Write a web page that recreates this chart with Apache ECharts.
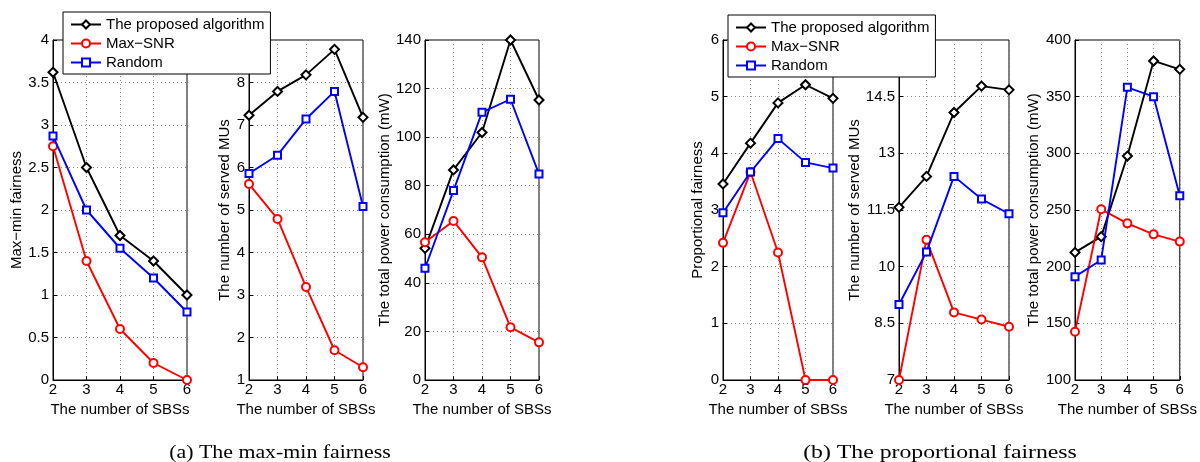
<!DOCTYPE html>
<html><head><meta charset="utf-8">
<script src="https://cdn.jsdelivr.net/npm/echarts@6/dist/echarts.min.js"></script>
<style>html,body{margin:0;padding:0;background:#fff}#c{width:1200px;height:462px}</style>
</head><body><div id="c"></div>
<script>
// ---------- data ----------
const xs = [2, 3, 4, 5, 6];
const seriesNames = ['The proposed algorithm', 'Max\u2212SNR', 'Random'];
const xAxisTitle = 'The number of SBSs';
const yTitles = ['Max\u2212min fairness', 'The number of served MUs', 'The total power consumption (mW)',
                 'Proportional fairness', 'The number of served MUs', 'The total power consumption (mW)'];
const captions = ['(a) The max-min fairness', '(b) The proportional fairness'];

// (a) max-min fairness
const mmFairProposed = [3.62, 2.5, 1.7, 1.4, 1.0];
const mmFairMaxSNR   = [2.75, 1.4, 0.6, 0.2, 0.0];
const mmFairRandom   = [2.87, 2.0, 1.55, 1.2, 0.8];
const mmServedProposed = [7.23, 7.79, 8.18, 8.78, 7.18];
const mmServedMaxSNR   = [5.61, 4.79, 3.19, 1.70, 1.30];
const mmServedRandom   = [5.86, 6.29, 7.14, 7.79, 5.08];
const mmPowerProposed = [54.2, 86.5, 101.9, 140, 115.3];
const mmPowerMaxSNR   = [56.7, 65.5, 50.5, 21.7, 15.5];
const mmPowerRandom   = [46, 78, 110.2, 115.6, 84.8];
// (b) proportional fairness
const pfFairProposed = [3.46, 4.18, 4.89, 5.21, 4.97];
const pfFairMaxSNR   = [2.42, 3.67, 2.25, 0, 0];
const pfFairRandom   = [2.95, 3.67, 4.26, 3.84, 3.74];
const pfServedProposed = [11.57, 12.39, 14.08, 14.78, 14.68];
const pfServedMaxSNR   = [7.0, 10.71, 8.79, 8.60, 8.41];
const pfServedRandom   = [9.0, 10.39, 12.39, 11.79, 11.40];
const pfPowerProposed = [212.6, 226.5, 297.6, 381.5, 374.1];
const pfPowerMaxSNR   = [142.6, 250.6, 238.2, 228.5, 222.1];
const pfPowerRandom   = [191.2, 205.9, 358.2, 350, 262.6];

// y axis ranges: [min, max, interval]
const yRanges = [[0, 4, 0.5], [1, 9, 1], [0, 140, 20], [0, 6, 1], [7, 16, 1.5], [100, 400, 50]];

const panels = [
  [mmFairProposed, mmFairMaxSNR, mmFairRandom],
  [mmServedProposed, mmServedMaxSNR, mmServedRandom],
  [mmPowerProposed, mmPowerMaxSNR, mmPowerRandom],
  [pfFairProposed, pfFairMaxSNR, pfFairRandom],
  [pfServedProposed, pfServedMaxSNR, pfServedRandom],
  [pfPowerProposed, pfPowerMaxSNR, pfPowerRandom]
];

// ---------- layout / style ----------
const FONT = 'Liberation Sans, Arial, Helvetica, sans-serif';
const gridBoxes = [
  {left: 53, width: 134},
  {left: 249, width: 114},
  {left: 425, width: 114},
  {left: 723, width: 110},
  {left: 899, width: 110},
  {left: 1075, width: 110}
];
const yNameGaps = [21, 13, 33, 18, 37, 34];
const colors = ['#000000', '#ff0000', '#0000ff'];
const symbols = ['emptyDiamond', 'emptyCircle', 'emptyRect'];
const symbolSizes = [9, 8, 7];

const grid = gridBoxes.map(g => ({
  left: g.left, width: g.width, top: 40, height: 340,
  show: true, borderColor: '#000', borderWidth: 1, backgroundColor: 'transparent'
}));

const splitLine = {show: true, lineStyle: {color: '#8a8a8a', type: [1, 3], width: 1}};

const xAxis = gridBoxes.map((g, i) => ({
  type: 'value', gridIndex: i, min: 2, max: 6, interval: 1,
  name: xAxisTitle, nameLocation: 'middle', nameGap: 17,
  nameTextStyle: {fontFamily: FONT, fontSize: 15, color: '#000'},
  axisLine: {show: true, lineStyle: {color: '#000', width: 1}},
  axisTick: {show: true, inside: true, length: 4, lineStyle: {color: '#000'}},
  axisLabel: {fontFamily: FONT, fontSize: 15, color: '#000', margin: 2},
  splitLine: splitLine
}));

const yAxis = yRanges.map((r, i) => ({
  type: 'value', gridIndex: i, min: r[0], max: r[1], interval: r[2],
  name: yTitles[i], nameLocation: 'middle', nameGap: yNameGaps[i],
  nameTextStyle: {fontFamily: FONT, fontSize: 15, color: '#000'},
  axisLine: {show: true, lineStyle: {color: '#000', width: 1}},
  axisTick: {show: true, inside: true, length: 4, lineStyle: {color: '#000'}},
  axisLabel: {fontFamily: FONT, fontSize: 15, color: '#000', margin: 4, showMinLabel: true, showMaxLabel: true},
  splitLine: splitLine
}));

const series = [];
panels.forEach((p, gi) => {
  p.forEach((vals, si) => {
    series.push({
      type: 'line', name: seriesNames[si], xAxisIndex: gi, yAxisIndex: gi,
      data: xs.map((x, k) => [x, vals[k]]),
      symbol: symbols[si], symbolSize: symbolSizes[si], showAllSymbol: true,
      lineStyle: {color: colors[si], width: 1.9},
      itemStyle: {color: colors[si], borderColor: colors[si], borderWidth: 1.6},
      animation: false, z: 3 + si
    });
  });
});

const legendCommon = {
  orient: 'vertical', data: seriesNames, selectedMode: false,
  backgroundColor: '#fff', borderColor: '#000', borderWidth: 1, borderRadius: 0,
  padding: [5, 6, 4, 7], itemGap: 4, itemWidth: 30, itemHeight: 10,
  textStyle: {fontFamily: FONT, fontSize: 15, color: '#000', lineHeight: 14},
  z: 10
};

const option = {
  backgroundColor: '#fff',
  animation: false,
  grid: grid, xAxis: xAxis, yAxis: yAxis, series: series,
  legend: [
    Object.assign({}, legendCommon, {left: 63, top: 12}),
    Object.assign({}, legendCommon, {left: 728, top: 15})
  ],
  graphic: [
    {type: 'text', x: 280, y: 453, scaleX: 1.15, style: {text: captions[0], fontFamily: 'Liberation Serif, Times New Roman, serif', fontSize: 19, fill: '#000', textAlign: 'center', textVerticalAlign: 'middle'}},
    {type: 'text', x: 940, y: 453, scaleX: 1.25, style: {text: captions[1], fontFamily: 'Liberation Serif, Times New Roman, serif', fontSize: 19, fill: '#000', textAlign: 'center', textVerticalAlign: 'middle'}}
  ]
};

const chart = echarts.init(document.getElementById('c'), null, {renderer: 'canvas'});
chart.setOption(option);
</script></body></html>
